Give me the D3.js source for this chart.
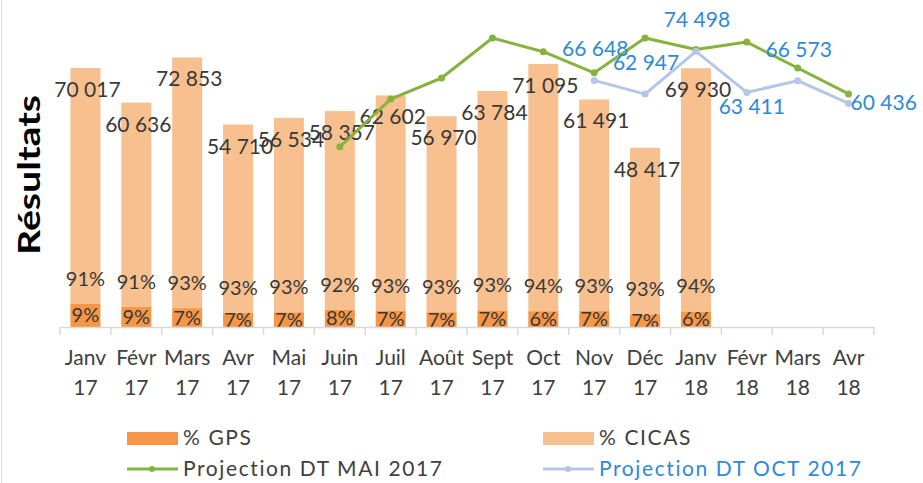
<!DOCTYPE html>
<html>
<head>
<meta charset="utf-8">
<script src="https://cdn.jsdelivr.net/npm/d3@7/dist/d3.min.js"></script>
<style>
body{margin:0;background:#fff;}
text{font-family:Lato,"Open Sans",sans-serif;}
</style>
</head>
<body>
<svg id="chart" width="923" height="483"></svg>
<script>
// categories
var months = ["Janv 17","Févr 17","Mars 17","Avr 17","Mai 17","Juin 17","Juil 17","Août 17",
	"Sept 17","Oct 17","Nov 17","Déc 17","Janv 18","Févr 18","Mars 18","Avr 18"];

// bar series (total results and split in %)
var totals   = [70017, 60636, 72853, 54710, 56534, 58357, 62602, 56970, 63784, 71095, 61491, 48417, 69930];
var gpsPct   = [9, 9, 7, 7, 7, 8, 7, 7, 7, 6, 7, 7, 6];
var cicasPct = [91, 91, 93, 93, 93, 92, 93, 93, 93, 94, 93, 93, 94];

var projMai = [null, null, null, null, null, 48700, 61600, 67300, 78100, 74400, 68700, 78100, 75000, 77000, 70000, 63000];
var projOct = [null, null, null, null, null, null, null, null, null, null, 66648, 62947, 74498, 63411, 66573, 60436];
var projOctLabelSide = ["above", "above", "above", "below", "above", "right"];

var colGps = "#F79646", colCicas = "#F9C08F", colMai = "#86B33F", colOct = "#B4C7E7", colOctText = "#2E8AD6";

var svg = d3.select("#chart");
var fmt = function(v){ return d3.format(",")(v).replace(/,/g, " "); };

var x = d3.scaleBand()
	.domain(months)
	.range([60, 874])
	.paddingInner(0.41)
	.paddingOuter(0.205);

var y = d3.scaleLinear()
	.domain([0, 80000])
	.range([327, 31]);

var cx = function(m){ return x(m) + x.bandwidth() / 2; };

// chart border on the left
svg.append("line")
	.attr("x1", 1.5).attr("x2", 1.5)
	.attr("y1", 0).attr("y2", 483)
	.attr("stroke", "#d9d9d9");

// bars
var barData = totals.map(function(t, i){
	return {month: months[i], total: t, gps: gpsPct[i], cicas: cicasPct[i], gpsVal: t * gpsPct[i] / 100};
});

var bars = svg.append("g").selectAll(".bar")
	.data(barData)
	.enter()
	.append("g")
	.attr("class", "bar");

bars.append("rect")
	.attr("x", function(d){ return x(d.month); })
	.attr("width", x.bandwidth())
	.attr("y", function(d){ return y(d.total); })
	.attr("height", function(d){ return y(d.gpsVal) - y(d.total); })
	.attr("fill", colCicas);

bars.append("rect")
	.attr("x", function(d){ return x(d.month); })
	.attr("width", x.bandwidth())
	.attr("y", function(d){ return y(d.gpsVal); })
	.attr("height", function(d){ return y(0) - y(d.gpsVal); })
	.attr("fill", colGps);

// axis
var axis = svg.append("g")
	.attr("transform", "translate(0,327)")
	.call(d3.axisBottom(x).tickSize(0).tickSizeOuter(0));

axis.select(".domain").attr("stroke", "#d9d9d9").attr("stroke-width", 1.5);

axis.selectAll(".tick text")
	.attr("dy", null)
	.attr("y", null)
	.attr("fill", "#404040")
	.style("font-size", "21px")
	.text(null)
	.each(function(d){
		var parts = d.split(" ");
		var t = d3.select(this);
		t.append("tspan").attr("x", 0).attr("y", 38).text(parts[0]);
		t.append("tspan").attr("x", 0).attr("y", 68).text(parts[1]);
	});

axis.selectAll(".sep")
	.data(d3.range(months.length + 1))
	.enter()
	.append("line")
	.attr("class", "sep")
	.attr("x1", function(i){ return 60 + i * x.step(); })
	.attr("x2", function(i){ return 60 + i * x.step(); })
	.attr("y1", 0).attr("y2", 8)
	.attr("stroke", "#d9d9d9").attr("stroke-width", 1.5);

// projection lines
function drawLine(values, colour){
	var pts = values.map(function(v, i){ return {month: months[i], v: v}; })
		.filter(function(d){ return d.v !== null; });
	var line = d3.line()
		.x(function(d){ return cx(d.month); })
		.y(function(d){ return y(d.v); });
	svg.append("path")
		.datum(pts)
		.attr("d", line)
		.attr("fill", "none")
		.attr("stroke", colour)
		.attr("stroke-width", 3)
		.attr("stroke-linejoin", "round");
	svg.append("g").selectAll("circle")
		.data(pts)
		.enter()
		.append("circle")
		.attr("cx", function(d){ return cx(d.month); })
		.attr("cy", function(d){ return y(d.v); })
		.attr("r", 3.5)
		.attr("fill", colour);
	return pts;
}

drawLine(projMai, colMai);
var octPts = drawLine(projOct, colOct);

// bar labels
bars.append("text")
	.attr("x", function(d){ return cx(d.month) + 2; })
	.attr("y", function(d){ return y(d.total) + 29; })
	.attr("text-anchor", "middle")
	.attr("fill", "#383838")
	.style("font-size", "21px")
	.text(function(d){ return fmt(d.total); });

bars.append("text")
	.attr("x", function(d){ return cx(d.month); })
	.attr("y", function(d){ return y(d.gpsVal) - 18; })
	.attr("text-anchor", "middle")
	.attr("fill", "#383838")
	.style("font-size", "20px")
	.text(function(d){ return d.cicas + "%"; });

bars.append("text")
	.attr("x", function(d){ return cx(d.month); })
	.attr("y", function(d){ return (y(d.gpsVal) + y(0)) / 2 + 7; })
	.attr("text-anchor", "middle")
	.attr("fill", "#383838")
	.style("font-size", "20px")
	.text(function(d){ return d.gps + "%"; });

// projection OCT labels
svg.append("g").selectAll("text")
	.data(octPts)
	.enter()
	.append("text")
	.attr("x", function(d, i){ return projOctLabelSide[i] === "right" ? cx(d.month) + 2 : cx(d.month) + (projOctLabelSide[i] === "below" ? 5 : 1); })
	.attr("y", function(d, i){
		var s = projOctLabelSide[i];
		if(s === "below") return y(d.v) + 22;
		if(s === "right") return y(d.v) + 7;
		return y(d.v) - 24;
	})
	.attr("text-anchor", function(d, i){ return projOctLabelSide[i] === "right" ? "start" : "middle"; })
	.attr("fill", colOctText)
	.style("font-size", "21px")
	.text(function(d){ return fmt(d.v); });

// y title
svg.append("text")
	.attr("transform", "translate(40,175) rotate(-90)")
	.attr("text-anchor", "middle")
	.attr("fill", "#000")
	.style("font-size", "30px")
	.style("font-weight", "bold")
	.attr("textLength", 160)
	.attr("lengthAdjust", "spacingAndGlyphs")
	.text("Résultats");

// legend
var legend = [
	{label: "% GPS", type: "rect", colour: colGps, x: 127, y: 438, text: "#404040"},
	{label: "% CICAS", type: "rect", colour: colCicas, x: 543, y: 438, text: "#404040"},
	{label: "Projection DT MAI 2017", type: "line", colour: colMai, x: 127, y: 469, text: "#404040"},
	{label: "Projection DT OCT 2017", type: "line", colour: colOct, x: 543, y: 469, text: colOctText}
];

var leg = svg.append("g").selectAll("g")
	.data(legend)
	.enter()
	.append("g")
	.attr("transform", function(d){ return "translate(" + d.x + "," + d.y + ")"; });

leg.filter(function(d){ return d.type === "rect"; })
	.append("rect")
	.attr("x", 0).attr("y", -6)
	.attr("width", 51).attr("height", 13)
	.attr("fill", function(d){ return d.colour; });

leg.filter(function(d){ return d.type === "line"; })
	.append("line")
	.attr("x1", 0).attr("x2", 51)
	.attr("stroke", function(d){ return d.colour; })
	.attr("stroke-width", 3);

leg.filter(function(d){ return d.type === "line"; })
	.append("circle")
	.attr("cx", 25).attr("r", 3)
	.attr("fill", function(d){ return d.colour; });

leg.append("text")
	.attr("x", 56)
	.attr("y", 7)
	.attr("fill", function(d){ return d.text; })
	.style("font-size", "21px")
	.style("letter-spacing", "1.6px")
	.text(function(d){ return d.label; });
</script>
</body>
</html>
